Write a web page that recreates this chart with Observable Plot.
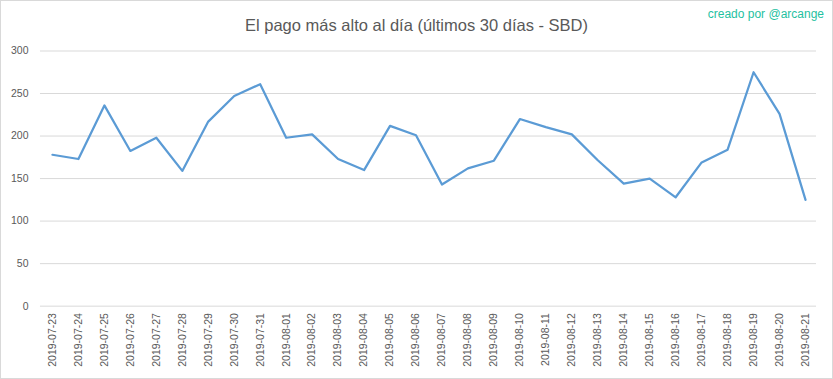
<!DOCTYPE html>
<html><head><meta charset="utf-8">
<script src="https://cdn.jsdelivr.net/npm/d3@7"></script>
<script src="https://cdn.jsdelivr.net/npm/@observablehq/plot@0.6"></script>
<style>
html,body{margin:0;padding:0;background:#fff;}
#wrap{position:relative;width:833px;height:379px;box-sizing:border-box;border:1px solid #d9d9d9;overflow:hidden;font-family:"Liberation Sans",Arial,sans-serif;}
#title{position:absolute;left:0;top:15px;width:831px;text-align:center;font-size:16.5px;color:#595959;}
#mark{position:absolute;right:8px;top:6px;font-size:12px;color:#1fc19f;}
#chart{position:absolute;left:-1px;top:39px;}
</style></head>
<body>
<div id="wrap">
<div id="title">El pago más alto al día (últimos 30 días - SBD)</div>
<div id="mark">creado por @arcange</div>
<div id="chart"></div>
</div>
<script>
const dates = ["2019-07-23","2019-07-24","2019-07-25","2019-07-26","2019-07-27","2019-07-28","2019-07-29","2019-07-30","2019-07-31","2019-08-01","2019-08-02","2019-08-03","2019-08-04","2019-08-05","2019-08-06","2019-08-07","2019-08-08","2019-08-09","2019-08-10","2019-08-11","2019-08-12","2019-08-13","2019-08-14","2019-08-15","2019-08-16","2019-08-17","2019-08-18","2019-08-19","2019-08-20","2019-08-21"];
const values = [178,173,236,182.5,198,159,217,247,261,198,202,173,160,212,201,143,162,171,220,210.5,202,171.5,144,150,128,169,184,275,226,125];
const yTicks = [0,50,100,150,200,250,300];
const data = dates.map((d,i)=>({date:d, value:values[i]}));

const chart = Plot.plot({
  width: 833,
  height: 339,
  marginTop: 10.5,
  marginBottom: 73,
  marginLeft: 40,
  marginRight: 16,
  style: {fontFamily: '"Liberation Sans", Arial, sans-serif', background: "transparent"},
  x: {type: "point", domain: dates, padding: 0.25, label: null},
  y: {domain: [0,300], label: null},
  marks: [
    Plot.gridY(yTicks, {stroke: "#d9d9d9", strokeOpacity: 1, strokeWidth: 1}),
    Plot.axisY(yTicks, {tickSize: 0, tickPadding: 12, fontSize: 10.5, fill: "#595959", label: null}),
    Plot.axisX({tickRotate: -90, tickSize: 0, tickPadding: 7, fontSize: 10.5, fill: "#595959", label: null}),
    Plot.line(data, {x: "date", y: "value", stroke: "#5b9bd5", strokeWidth: 2.25, strokeLinejoin: "round"})
  ]
});
document.getElementById("chart").appendChild(chart);
</script>
</body></html>
